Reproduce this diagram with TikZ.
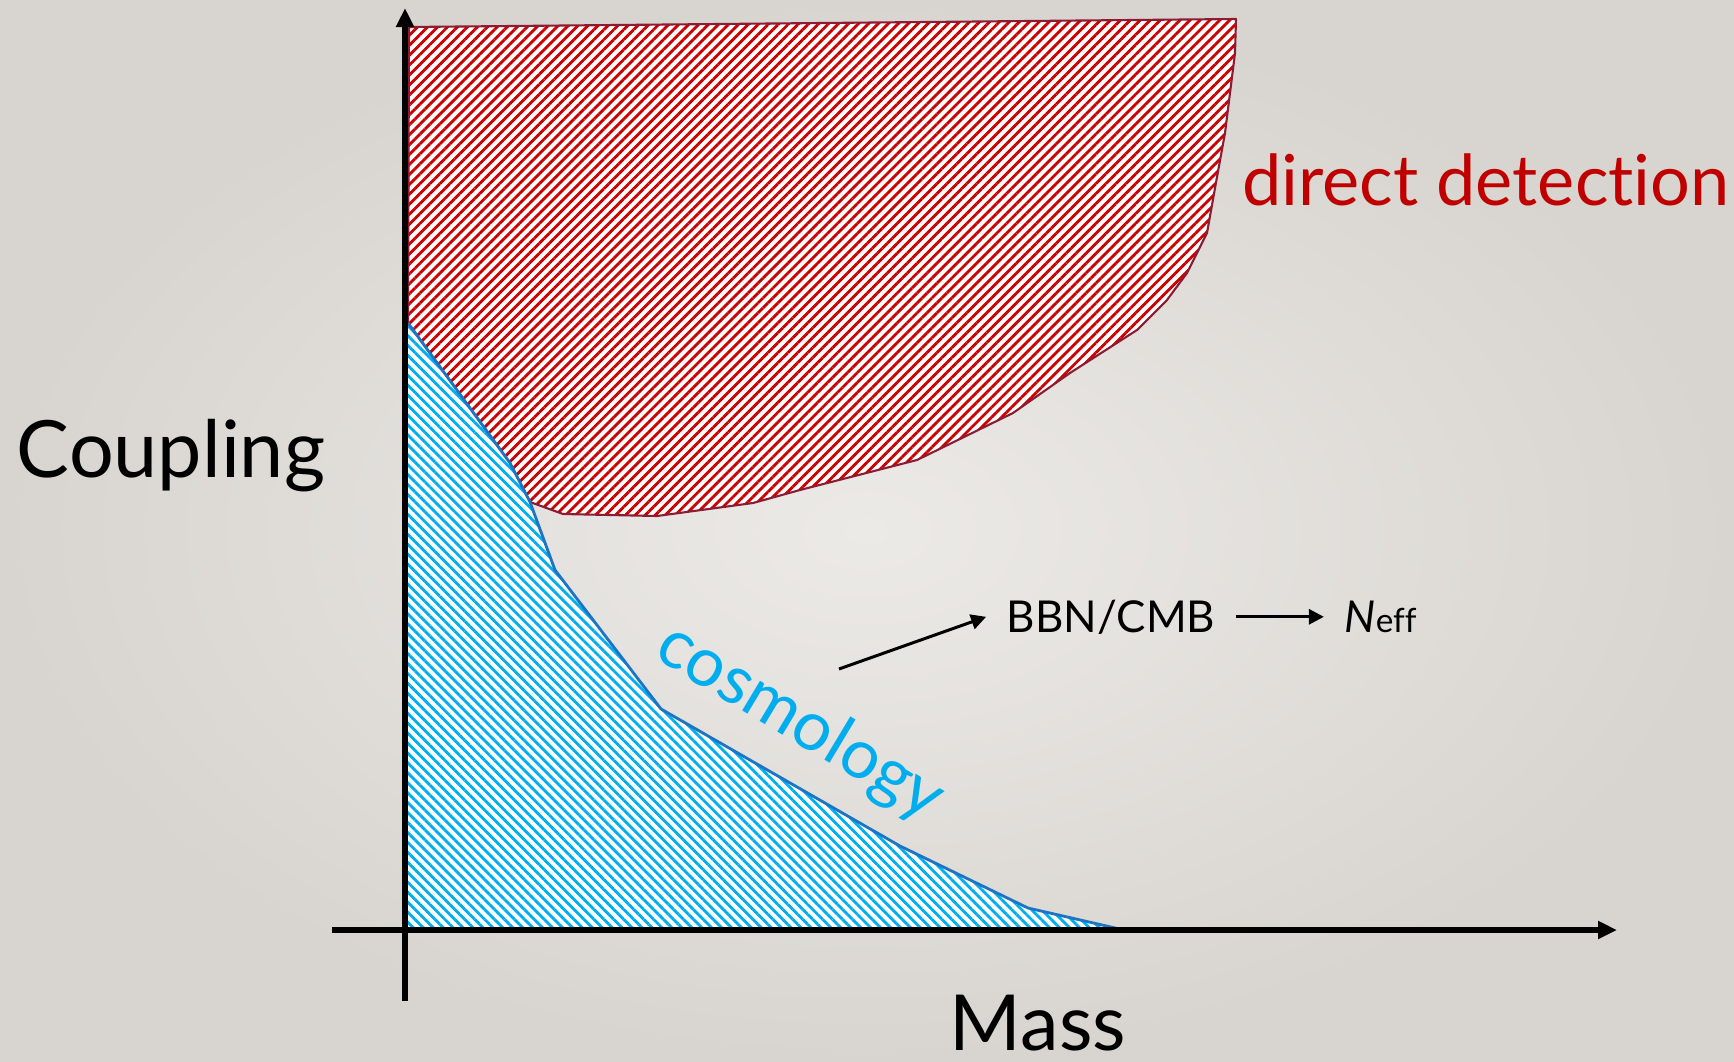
\documentclass[tikz,border=0pt]{standalone}
\usepackage{fontspec}
\setmainfont{Lato}[Ligatures=NoCommon]
\usetikzlibrary{positioning}
\usetikzlibrary{arrows.meta}
\usetikzlibrary{patterns.meta}

\definecolor{bgin}{HTML}{ECEAE7}
\definecolor{bgout}{HTML}{D8D5D0}
\definecolor{ddred}{HTML}{C00000}
\definecolor{ddhatch}{HTML}{CC0000}
\definecolor{ddline}{HTML}{8C1C33}
\definecolor{cosmoblue}{HTML}{00AEEF}
\definecolor{cosmoline}{HTML}{1C74C4}

\begin{document}
\begin{tikzpicture}[
    axis/.style={line width=1.7pt, -{Triangle[width=0.17cm,length=0.19cm]}},
    pointer/.style={line width=0.85pt, -{Triangle[width=0.15cm,length=0.15cm]}},
    ddregion/.style={preaction={fill=white}, pattern={Lines[angle=45,distance=2pt,line width=0.8pt]}, pattern color=ddhatch},
    cosmoregion/.style={preaction={fill=white}, pattern={Lines[angle=-45,distance=2pt,line width=0.8pt]}, pattern color=cosmoblue},
    bigtext/.style={font=\fontsize{22.5}{22.5}\selectfont, anchor=base, inner sep=1pt},
    smalltext/.style={font=\fontsize{12.5}{12.5}\selectfont, inner xsep=0.2cm}
]

    \shade[inner color=bgin, outer color=bgout] (0,0) rectangle (17.34,10.61);
    \useasboundingbox (0,0) rectangle (17.34,10.61);

    % direct detection region
    \draw[ddregion, draw=ddline, line width=0.6pt, line join=round]
        (4.09,10.34) -- (12.36,10.42) -- (12.35,10.08) -- (12.25,9.28) -- (12.17,8.84)
        -- (12.07,8.28) -- (11.87,7.88) -- (11.67,7.61) -- (11.37,7.31) -- (10.70,6.88)
        -- (10.13,6.48) -- (9.17,6.01) -- (8.00,5.71) -- (7.53,5.58) -- (6.57,5.45)
        -- (5.63,5.47) -- (5.30,5.59) -- (5.10,5.98) -- (4.08,7.38) -- cycle;

    % cosmology region
    \fill[cosmoregion]
        (4.08,7.38) -- (5.10,5.98) -- (5.30,5.59) -- (5.55,4.91) -- (6.61,3.52)
        -- (9.00,2.15) -- (10.28,1.53) -- (11.24,1.31) -- (4.08,1.31) -- cycle;
    \draw[cosmoline, line width=0.8pt, line join=round]
        (4.08,7.38) -- (5.10,5.98) -- (5.30,5.59) -- (5.55,4.91) -- (6.61,3.52)
        -- (9.00,2.15) -- (10.28,1.53) -- (11.24,1.31);

    \coordinate (x0) at (3.32,1.31);
    \coordinate (x1) at (16.17,1.31);
    \coordinate (y0) at (4.05,0.60);
    \coordinate (y1) at (4.05,10.53);
    \draw[axis] (x0) -- (x1);
    \draw[axis] (y0) -- (y1);

    \node[bigtext] (coupling) at (1.71,5.84) {Coupling};
    \node[bigtext, font=\fontsize{22}{22}\selectfont, inner sep=0pt] (mass) at (10.38,0.11) {Mass};
    \node[font=\fontsize{20}{20}\selectfont, text=ddred, anchor=base] (direct) at (14.86,8.56) {direct detection};
    \node[font=\fontsize{19.5}{19.5}\selectfont, text=cosmoblue, rotate=-31, inner sep=0pt] (cosmo) at (8.00,3.38) {cosmology};

    \node[smalltext, anchor=base] (bbn) at (11.11,4.29) {BBN/CMB};
    \node[smalltext, base right=0.88cm of bbn] (neff) {\textit{N}{\fontsize{9.5}{9.5}\selectfont eff}};

    \coordinate (src) at (8.39,3.92);
    \draw[pointer] (src) -- (bbn.west);
    \draw[pointer] (bbn.east) -- (bbn.east -| neff.west);

\end{tikzpicture}
\end{document}
